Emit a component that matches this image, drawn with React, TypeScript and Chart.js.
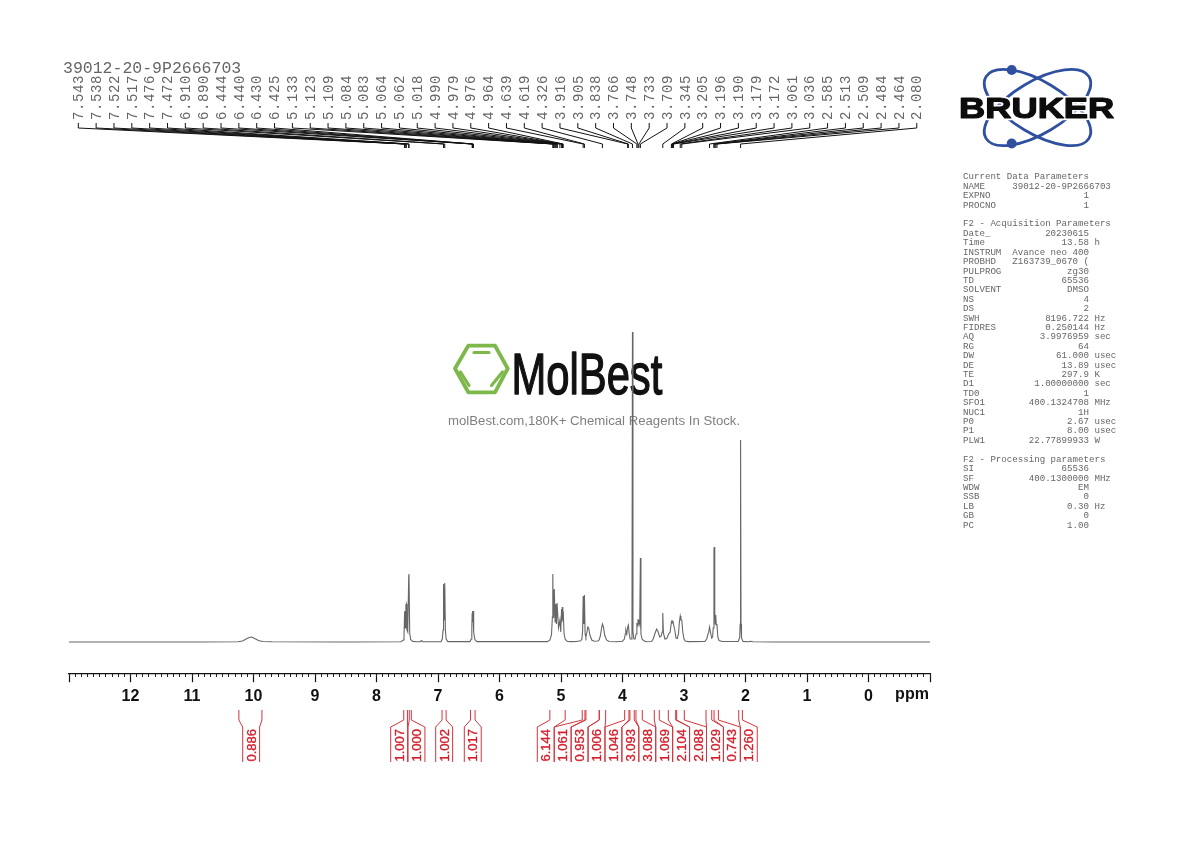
import { useEffect, useRef } from "react";
import { Chart, registerables } from "chart.js";

Chart.register(...registerables);

const sampleName = "39012-20-9P2666703";

// spectrum trace: chemical shift and height above the baseline
const tracePpm = [
  13, 10.9, 10.25, 10.18, 10.12, 10.07, 10.03, 9.98, 9.92, 9.85, 9.7, 8.5,
  7.6, 7.565, 7.553, 7.543, 7.538, 7.531, 7.522, 7.517, 7.505, 7.492, 7.476, 7.472, 7.46, 7.445, 7.41, 7.35,
  7.29, 7.27, 7.25,
  6.95, 6.93, 6.918, 6.91, 6.9, 6.89, 6.88, 6.868, 6.84,
  6.48, 6.46, 6.45, 6.444, 6.44, 6.435, 6.43, 6.425, 6.415, 6.4, 6.37,
  5.22, 5.18, 5.155, 5.14, 5.133, 5.128, 5.123, 5.116, 5.109, 5.096, 5.084, 5.074, 5.064, 5.04, 5.018, 5.004,
  4.99, 4.984, 4.979, 4.97, 4.964, 4.95, 4.93, 4.9, 4.85, 4.75, 4.68,
  4.66, 4.648, 4.639, 4.629, 4.619, 4.608, 4.595, 4.58, 4.565, 4.55, 4.53, 4.5, 4.46, 4.4,
  4.38, 4.36, 4.34, 4.326, 4.31, 4.29, 4.26, 4.22, 4.1, 4.0,
  3.97, 3.955, 3.946, 3.93, 3.916, 3.905, 3.89, 3.875, 3.858, 3.846, 3.838, 3.83, 3.815, 3.795, 3.78,
  3.766, 3.757, 3.748, 3.74, 3.733, 3.72, 3.709, 3.7, 3.68, 3.655, 3.64, 3.62,
  3.53, 3.5, 3.47, 3.445, 3.42, 3.395, 3.37, 3.355, 3.345, 3.335, 3.31, 3.28, 3.25, 3.225,
  3.205, 3.196, 3.19, 3.179, 3.172, 3.15, 3.13, 3.11, 3.09, 3.075, 3.061, 3.05, 3.036, 3.02, 3.0, 2.98, 2.93,
  2.66, 2.63, 2.61, 2.6, 2.585, 2.57, 2.55, 2.535, 2.525, 2.513, 2.509, 2.5, 2.492, 2.484, 2.475, 2.464, 2.45, 2.43, 2.38, 2.2,
  2.12, 2.095, 2.087, 2.08, 2.073, 2.065, 2.04, 1.95, 1.92, 1.88, 1.5, 0.5, -1,
];
const traceHeight = [
  0, 0, 0.2, 1, 3, 4.5, 5, 3.5, 1.5, 0.5, 0.2, 0,
  0.3, 2, 5, 30, 31, 14, 37, 38, 12, 10, 66, 68, 9, 2.5, 0.6, 0.3,
  0.3, 1.5, 0.3,
  0.4, 3, 12, 58, 22, 59, 12, 3, 0.4,
  0.4, 3, 14, 29, 31, 20, 30, 31, 10, 2.5, 0.4,
  0.4, 2, 7, 25, 68, 30, 52, 24, 53, 20, 38, 18, 39, 14, 22, 10,
  33, 20, 35, 22, 31, 8, 2.5, 0.8, 0.4, 0.5, 1.2,
  3, 12, 46, 18, 47, 8, 5, 9, 15, 14, 7, 2, 0.8, 1,
  2, 6, 14, 18, 15, 7, 2, 0.5, 0.3, 0.8,
  3, 8, 12, 8, 15, 17, 8, 3, 3, 10, 310, 10, 3, 3, 8,
  19, 16, 23, 18, 22, 18, 84, 8, 2.5, 1.5, 1, 0.3,
  0.5, 3, 9, 13, 10, 5, 6, 10, 29, 9, 3, 3.5, 8, 10,
  20, 22, 19, 21, 18, 12, 4, 3.5, 8, 20, 26, 22, 22, 10, 3, 1, 0.4,
  0.6, 3, 8, 9, 15, 10, 4, 5, 14, 92, 95, 30, 18, 27, 17, 18, 5, 1.5, 0.5, 0.5,
  0.5, 4, 18, 202, 18, 4, 0.6, 0.3, 0.7, 0.3, 0, 0, 0,
];

const peakList = [
  7.543, 7.538, 7.522, 7.517, 7.476, 7.472, 6.91, 6.89, 6.444, 6.44, 6.43, 6.425,
  5.133, 5.123, 5.109, 5.084, 5.083, 5.064, 5.062, 5.018, 4.99, 4.979, 4.976, 4.964,
  4.639, 4.619, 4.326, 3.916, 3.905, 3.838, 3.766, 3.748, 3.733, 3.709, 3.345, 3.205,
  3.196, 3.19, 3.179, 3.172, 3.061, 3.036, 2.585, 2.513, 2.509, 2.484, 2.464, 2.08,
];

const integralValues = ["0.886", "1.007", "1.000", "1.002", "1.017", "6.144", "1.061", "0.953", "1.006", "1.046", "3.093", "3.088", "1.069", "2.104", "2.088", "1.029", "0.743", "1.260"];
const integralFrom = [10.238, 7.557, 7.467, 6.934, 6.471, 5.181, 4.655, 4.595, 4.378, 3.965, 3.879, 3.781, 3.483, 3.255, 3.119, 2.642, 2.511, 2.11];
const integralTo = [9.863, 7.497, 7.434, 6.868, 6.397, 4.932, 4.611, 4.378, 4.274, 3.895, 3.809, 3.678, 3.402, 3.135, 2.995, 2.549, 2.441, 2.051];

const paramBlocks: [string, string, string?][][] = [
  [
    ["Current Data Parameters", ""],
    ["NAME", "", sampleName],
    ["EXPNO", "1"],
    ["PROCNO", "1"],
  ],
  [
    ["F2 - Acquisition Parameters", ""],
    ["Date_", "20230615"],
    ["Time", "13.58", "h"],
    ["INSTRUM", "Avance neo 400"],
    ["PROBHD", "Z163739_0670 ("],
    ["PULPROG", "zg30"],
    ["TD", "65536"],
    ["SOLVENT", "DMSO"],
    ["NS", "4"],
    ["DS", "2"],
    ["SWH", "8196.722", "Hz"],
    ["FIDRES", "0.250144", "Hz"],
    ["AQ", "3.9976959", "sec"],
    ["RG", "64"],
    ["DW", "61.000", "usec"],
    ["DE", "13.89", "usec"],
    ["TE", "297.9", "K"],
    ["D1", "1.00000000", "sec"],
    ["TD0", "1"],
    ["SFO1", "400.1324708", "MHz"],
    ["NUC1", "1H"],
    ["P0", "2.67", "usec"],
    ["P1", "8.00", "usec"],
    ["PLW1", "22.77899933", "W"],
  ],
  [
    ["F2 - Processing parameters", ""],
    ["SI", "65536"],
    ["SF", "400.1300000", "MHz"],
    ["WDW", "EM"],
    ["SSB", "0"],
    ["LB", "0.30", "Hz"],
    ["GB", "0"],
    ["PC", "1.00"],
  ],
];

function paramLine(label: string, value: string, extra?: string) {
  if (label === "NAME") return label.padEnd(9) + extra;
  if (!value) return label;
  return label.padEnd(23 - value.length) + value + (extra ? " " + extra : "");
}

function drawLogos(ctx: CanvasRenderingContext2D) {
  // Bruker atom
  ctx.save();
  ctx.strokeStyle = "#2f4f9f";
  ctx.fillStyle = "#2f4f9f";
  ctx.lineWidth = 2.8;
  [0.54, -0.54].forEach((rot) => {
    ctx.beginPath();
    ctx.ellipse(1037.5, 107.5, 60, 26, rot, 0, Math.PI * 2);
    ctx.stroke();
  });
  [70, 143.5].forEach((cy) => {
    ctx.beginPath();
    ctx.arc(1011.7, cy, 5, 0, Math.PI * 2);
    ctx.fill();
  });
  ctx.translate(959, 118);
  ctx.scale(1.21, 1);
  ctx.font = "bold 30px 'Liberation Sans'";
  ctx.textAlign = "left";
  ctx.textBaseline = "alphabetic";
  ctx.lineJoin = "round";
  ctx.strokeStyle = "#fff";
  ctx.lineWidth = 4.5;
  ctx.strokeText("BRUKER", 0, 0);
  ctx.strokeStyle = "#0c0c0c";
  ctx.lineWidth = 1.2;
  ctx.strokeText("BRUKER", 0, 0);
  ctx.fillStyle = "#0c0c0c";
  ctx.fillText("BRUKER", 0, 0);
  ctx.restore();

  // MolBest mark
  ctx.save();
  ctx.strokeStyle = "#7cb84a";
  ctx.lineWidth = 3.8;
  ctx.lineJoin = "round";
  ctx.lineCap = "round";
  ctx.beginPath();
  ctx.moveTo(455, 368.5);
  ctx.lineTo(468.3, 345.7);
  ctx.lineTo(495, 345.7);
  ctx.lineTo(507.7, 368.5);
  ctx.lineTo(495, 392.3);
  ctx.lineTo(468.3, 392.3);
  ctx.closePath();
  ctx.stroke();
  ctx.lineWidth = 3.2;
  ctx.beginPath();
  ctx.moveTo(474, 352.5);
  ctx.lineTo(489, 352.5);
  ctx.moveTo(460.5, 372);
  ctx.lineTo(469, 385.5);
  ctx.moveTo(502.5, 372);
  ctx.lineTo(491.5, 385.5);
  ctx.stroke();
  ctx.translate(511.5, 394);
  ctx.scale(0.72, 1);
  ctx.font = "58px 'Liberation Sans'";
  ctx.textAlign = "left";
  ctx.textBaseline = "alphabetic";
  ctx.fillStyle = "#111";
  ctx.strokeStyle = "#111";
  ctx.lineWidth = 1.4;
  ctx.fillText("MolBest", 0, 0);
  ctx.strokeText("MolBest", 0, 0);
  ctx.restore();

  ctx.save();
  ctx.font = "13.2px 'Liberation Sans'";
  ctx.textAlign = "left";
  ctx.textBaseline = "middle";
  ctx.fillStyle = "#808080";
  ctx.fillText("molBest.com,180K+ Chemical Reagents In Stock.", 448, 421.5);
  ctx.restore();
}

function drawPeakTree(ctx: CanvasRenderingContext2D, xScale: any) {
  ctx.save();
  ctx.strokeStyle = "#111";
  ctx.lineWidth = 1;
  peakList.forEach((ppm, i) => {
    const labelX = 78.3 + i * 17.84;
    const peakX = xScale.getPixelForValue(ppm);
    ctx.beginPath();
    ctx.moveTo(labelX, 123);
    ctx.lineTo(labelX, 128);
    ctx.lineTo(peakX, 144);
    ctx.lineTo(peakX, 148);
    ctx.stroke();
    ctx.save();
    ctx.translate(labelX + 1, 120);
    ctx.rotate(-Math.PI / 2);
    ctx.font = "14px 'Liberation Mono'";
    (ctx as any).letterSpacing = "0.6px";
    ctx.textAlign = "left";
    ctx.textBaseline = "middle";
    ctx.fillStyle = "#666";
    ctx.fillText(ppm.toFixed(3), 0, 0);
    ctx.restore();
  });
  ctx.font = "16.5px 'Liberation Mono'";
  ctx.textAlign = "left";
  ctx.textBaseline = "alphabetic";
  ctx.fillStyle = "#666";
  ctx.fillText(sampleName, 63, 73);
  ctx.restore();
}

function drawIntegrals(ctx: CanvasRenderingContext2D, xScale: any) {
  const columnLeft = [242.7, 390.7, 408, 435.7, 464.3];
  for (let i = 0; i < 13; i++) columnLeft.push(537.3 + i * 16.92);
  ctx.save();
  ctx.lineWidth = 1;
  integralValues.forEach((value, i) => {
    const left = columnLeft[i];
    const right = left + 16.92;
    const from = xScale.getPixelForValue(integralFrom[i]);
    const to = xScale.getPixelForValue(integralTo[i]);
    ctx.strokeStyle = "#d4343c";
    ctx.beginPath();
    ctx.moveTo(left, 762);
    ctx.lineTo(left, 727);
    ctx.lineTo(from, 720);
    ctx.lineTo(from, 710);
    ctx.moveTo(right, 762);
    ctx.lineTo(right, 727);
    ctx.lineTo(to, 720);
    ctx.lineTo(to, 710);
    ctx.stroke();
    ctx.save();
    ctx.translate((left + right) / 2 + 1, 761.5);
    ctx.rotate(-Math.PI / 2);
    ctx.font = "13px 'Liberation Sans'";
    ctx.textAlign = "left";
    ctx.textBaseline = "middle";
    ctx.fillStyle = "#d4202c";
    ctx.strokeStyle = "#d4202c";
    ctx.lineWidth = 0.35;
    ctx.fillText(value, 0, 0);
    ctx.strokeText(value, 0, 0);
    ctx.restore();
  });
  ctx.restore();
}

function drawParams(ctx: CanvasRenderingContext2D) {
  ctx.save();
  ctx.font = "9.13px 'Liberation Mono'";
  ctx.textAlign = "left";
  ctx.textBaseline = "middle";
  ctx.fillStyle = "#666";
  let row = 0;
  paramBlocks.forEach((block) => {
    block.forEach(([label, value, extra]) => {
      ctx.fillText(paramLine(label, value, extra), 963, 177 + row * 9.41);
      row++;
    });
    row++;
  });
  ctx.restore();
}

const annotations = {
  id: "annotations",
  beforeDatasetsDraw(chart: any) {
    drawLogos(chart.ctx);
  },
  afterDraw(chart: any) {
    const { ctx, scales } = chart;
    drawPeakTree(ctx, scales.x);
    drawIntegrals(ctx, scales.x);
    drawParams(ctx);
    ctx.save();
    ctx.font = "bold 16px 'Liberation Sans'";
    ctx.textAlign = "center";
    ctx.textBaseline = "middle";
    ctx.fillStyle = "#111";
    ctx.fillText("ppm", 912, 695);
    ctx.restore();
  },
};

export default function App() {
  const canvasRef = useRef<HTMLCanvasElement | null>(null);

  useEffect(() => {
    if (!canvasRef.current) return;
    const axisY = { y: -32 };
    const chart = new Chart(canvasRef.current, {
      type: "line",
      data: {
        datasets: [
          {
            data: tracePpm.map((x, i) => ({ x, y: traceHeight[i] })),
            borderColor: "#666",
            borderWidth: 1.1,
            pointRadius: 0,
            tension: 0,
            fill: false,
          },
        ],
      },
      options: {
        responsive: false,
        animation: false,
        devicePixelRatio: 1,
        layout: { padding: { left: 69, right: 260, top: 330, bottom: 168 } },
        plugins: { legend: { display: false }, tooltip: { enabled: false }, title: { display: false } },
        scales: {
          x: {
            type: "linear",
            reverse: true,
            min: -1,
            max: 13,
            position: axisY,
            grid: { drawOnChartArea: false, tickLength: 8, tickColor: "#111", tickWidth: 1.2 },
            border: { display: true, color: "#111", width: 1.2 },
            ticks: {
              stepSize: 1,
              autoSkip: false,
              maxRotation: 0,
              padding: 5,
              color: "#111",
              font: { family: "'Liberation Sans'", size: 16, weight: "bold" },
              callback: (value) => (Number(value) === 13 || Number(value) === -1 ? "" : String(value)),
            },
          },
          xMinor: {
            type: "linear",
            axis: "x",
            reverse: true,
            min: -1,
            max: 13,
            position: axisY,
            grid: { drawOnChartArea: false, tickLength: 3, tickColor: "#222", tickWidth: 1 },
            border: { display: false },
            ticks: { stepSize: 0.1, autoSkip: false, maxTicksLimit: 200, display: false },
          },
          y: { display: false, min: -32, max: 312 },
        },
      } as any,
      plugins: [annotations],
    });
    return () => chart.destroy();
  }, []);

  return (
    <div style={{ position: "absolute", left: 0, top: 0, width: 1190, height: 842 }}>
      <canvas ref={canvasRef} width={1190} height={842} style={{ display: "block" }} />
    </div>
  );
}
